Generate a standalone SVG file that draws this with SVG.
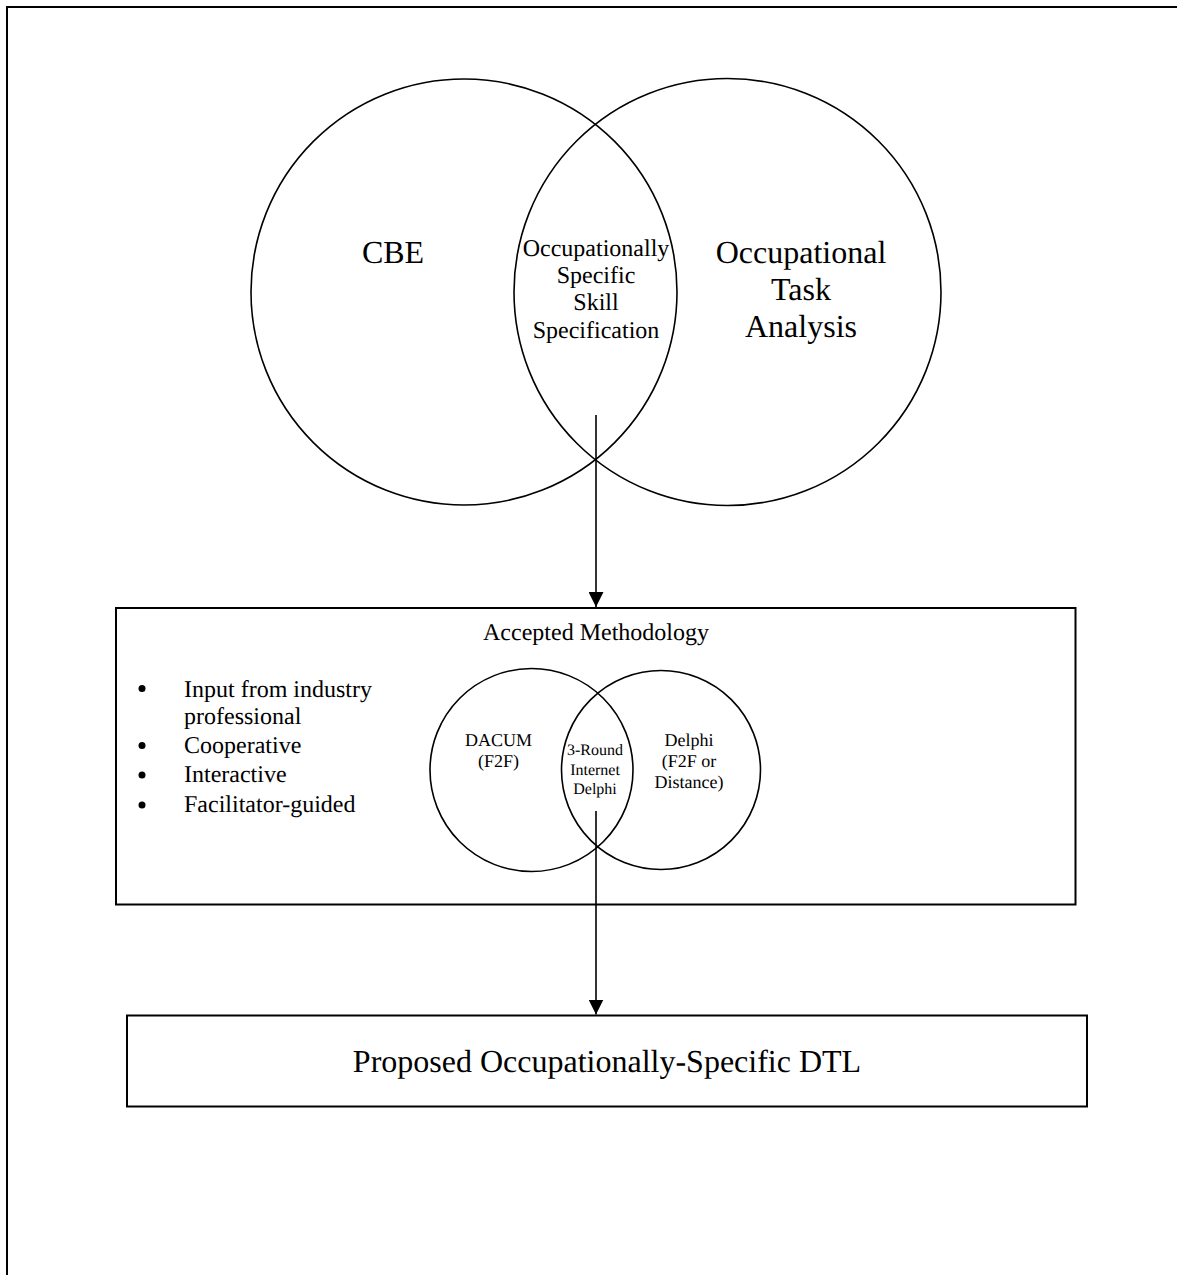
<svg xmlns="http://www.w3.org/2000/svg" width="1177" height="1275" viewBox="0 0 1177 1275">
<style>
  text { font-family: "Liberation Serif", "Times New Roman", serif; fill: #000; text-rendering: geometricPrecision; }
  .c { text-anchor: middle; }
  .big { font-size: 32px; }
  .mid { font-size: 24px; }
  .sm { font-size: 18px; }
  .xs { font-size: 16px; }
  .circ { fill: none; stroke: #000; stroke-width: 1.6; }
  .box { fill: none; stroke: #000; stroke-width: 2; }
  .conn { stroke: #000; stroke-width: 1.6; fill: none; }
  .dot { fill: #000; }
</style>
<defs>
  <marker id="arr" viewBox="0 0 10 10" refX="10" refY="5" markerWidth="15" markerHeight="15" markerUnits="userSpaceOnUse" orient="auto">
    <path d="M0,0 L10,5 L0,10 z" fill="#000"/>
  </marker>
</defs>
<rect width="1177" height="1275" fill="#fff"/>
<path d="M7,1275 V7 H1177" class="box"/>

<g id="cbe">
  <circle cx="464" cy="292" r="213" class="circ"/>
  <text x="393" y="263" class="c big">CBE</text>
</g>
<g id="ota">
  <circle cx="727.5" cy="292" r="213.5" class="circ"/>
  <text x="801" y="263" class="c big">Occupational</text>
  <text x="801" y="300" class="c big">Task</text>
  <text x="801" y="337" class="c big">Analysis</text>
</g>
<g id="ossp">
  <text x="596" y="256" class="c mid">Occupationally</text>
  <text x="596" y="283" class="c mid">Specific</text>
  <text x="596" y="310" class="c mid">Skill</text>
  <text x="596" y="338" class="c mid">Specification</text>
</g>

<g id="methodology">
  <rect x="116" y="608" width="959.5" height="296.5" class="box"/>
  <text x="596" y="640" class="c mid">Accepted Methodology</text>
  <circle cx="142" cy="688.5" r="3.5" class="dot"/>
  <text x="184" y="697" class="mid">Input from industry</text>
  <text x="184" y="724" class="mid">professional</text>
  <circle cx="142" cy="745.5" r="3.5" class="dot"/>
  <text x="184" y="753" class="mid">Cooperative</text>
  <circle cx="142" cy="775" r="3.5" class="dot"/>
  <text x="184" y="782" class="mid">Interactive</text>
  <circle cx="142" cy="805" r="3.5" class="dot"/>
  <text x="184" y="812" class="mid">Facilitator-guided</text>
</g>
<g id="dacum">
  <circle cx="531.5" cy="770" r="101.5" class="circ"/>
  <text x="498.5" y="746" class="c sm">DACUM</text>
  <text x="498.5" y="767" class="c sm">(F2F)</text>
</g>
<g id="delphi">
  <circle cx="661" cy="770" r="99.5" class="circ"/>
  <text x="689" y="746" class="c sm">Delphi</text>
  <text x="689" y="767" class="c sm">(F2F or</text>
  <text x="689" y="788" class="c sm">Distance)</text>
</g>
<g id="internet-delphi">
  <text x="595" y="755" class="c xs">3-Round</text>
  <text x="595" y="775" class="c xs">Internet</text>
  <text x="595" y="794" class="c xs">Delphi</text>
</g>

<g id="dtl">
  <rect x="127" y="1015.5" width="960" height="91" class="box"/>
  <text x="607" y="1072" class="c big">Proposed Occupationally-Specific DTL</text>
</g>

<g id="connectors">
  <line x1="596" y1="415" x2="596" y2="607" class="conn" marker-end="url(#arr)"/>
  <line x1="596" y1="811" x2="596" y2="1014.5" class="conn" marker-end="url(#arr)"/>
</g>
</svg>
